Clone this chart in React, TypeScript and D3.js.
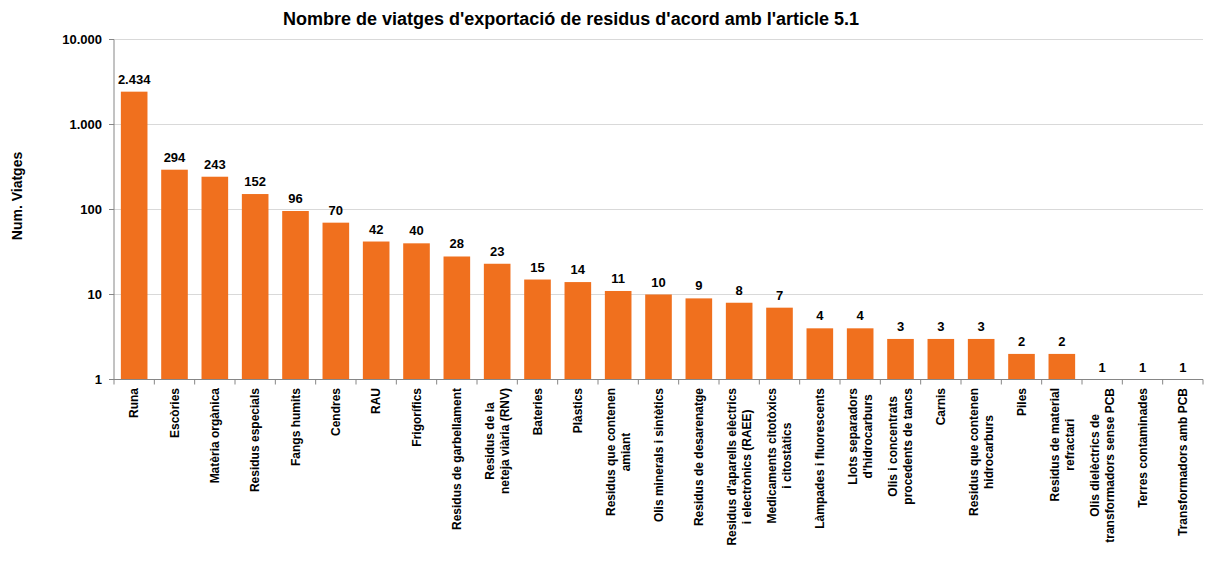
import React, { useMemo } from "react";
import * as d3 from "d3";

const title = "Nombre de viatges d'exportació de residus d'acord amb l'article 5.1";
const yAxisTitle = "Num. Viatges";

const categories: string[] = [
  "Runa",
  "Escòries",
  "Matèria orgànica",
  "Residus especials",
  "Fangs humits",
  "Cendres",
  "RAU",
  "Frigorífics",
  "Residus de garbellament",
  "Residus de la\nneteja viària (RNV)",
  "Bateries",
  "Plàstics",
  "Residus que contenen\namiant",
  "Olis minerals i sintètics",
  "Residus de desarenatge",
  "Residus d'aparells elèctrics\ni electrònics (RAEE)",
  "Medicaments citotòxics\ni citostàtics",
  "Làmpades i fluorescents",
  "Llots separadors\nd'hidrocarburs",
  "Olis i concentrats\nprocedents de tancs",
  "Carnis",
  "Residus que contenen\nhidrocarburs",
  "Piles",
  "Residus de material\nrefractari",
  "Olis dielèctrics de\ntransformadors sense PCB",
  "Terres contaminades",
  "Transformadors amb PCB",
];

const values: number[] = [
  2434, 294, 243, 152, 96, 70, 42, 40, 28, 23, 15, 14, 11, 10, 9, 8, 7, 4, 4, 3, 3, 3, 2, 2, 1, 1, 1,
];

const yTicks: number[] = [1, 10, 100, 1000, 10000];

const W = 1207;
const H = 565;
const M = { left: 114, right: 1203, top: 39.5, bottom: 379.5 };
const FONT = "'Liberation Sans', Arial, sans-serif";
const BAR = "#F0701E";

const locale = d3.formatLocale({ decimal: ",", thousands: ".", grouping: [3], currency: ["", "€"] });
const fmt = locale.format(",d");

export default function App() {
  const x = d3
    .scaleBand<string>()
    .domain(categories)
    .range([M.left, M.right])
    .paddingInner(0.34)
    .paddingOuter(0.17);
  const y = d3.scaleLog().domain([1, 10000]).range([M.bottom, M.top]);

  const step = x.step();
  const boundaries = d3.range(categories.length + 1).map((i) => M.left + i * step);

  const measure = useMemo(() => {
    const c = document.createElement("canvas").getContext("2d")!;
    c.font = `bold 12px ${FONT}`;
    return (s: string) => c.measureText(s).width;
  }, []);

  const labelTop = 388;
  const lineGap = 15;

  return (
    <svg
      width={W}
      height={H}
      style={{ position: "absolute", left: 0, top: 0, background: "#fff" }}
      fontFamily={FONT}
    >
      <text x={571} y={25} textAnchor="middle" fontSize={18} fontWeight="bold" fill="#000">
        {title}
      </text>

      {/* gridlines */}
      {yTicks
        .filter((t) => t > 1)
        .map((t) => (
          <line key={"g" + t} x1={M.left} x2={M.right} y1={y(t)} y2={y(t)} stroke="#d9d9d9" strokeWidth={1} />
        ))}

      {/* bars */}
      {values.map((v, i) => (
        <rect
          key={"b" + i}
          x={x(categories[i])!}
          y={y(v)}
          width={x.bandwidth()}
          height={y(1) - y(v)}
          fill={BAR}
        />
      ))}

      {/* value labels */}
      {values.map((v, i) => (
        <text
          key={"v" + i}
          x={x(categories[i])! + x.bandwidth() / 2}
          y={y(v) - 8}
          textAnchor="middle"
          fontSize={13}
          fontWeight="bold"
          fill="#000"
        >
          {fmt(v)}
        </text>
      ))}

      {/* y axis */}
      <line x1={M.left} x2={M.left} y1={M.top} y2={M.bottom} stroke="#868686" strokeWidth={1} />
      {yTicks.map((t) => (
        <g key={"yt" + t}>
          <line x1={M.left - 5} x2={M.left} y1={y(t)} y2={y(t)} stroke="#868686" strokeWidth={1} />
          <text x={102} y={y(t)} dy="0.35em" textAnchor="end" fontSize={13} fontWeight="bold" fill="#000">
            {fmt(t)}
          </text>
        </g>
      ))}

      {/* x axis */}
      <line x1={M.left} x2={M.right} y1={M.bottom} y2={M.bottom} stroke="#868686" strokeWidth={1} />
      {boundaries.map((bx, i) => (
        <line key={"xt" + i} x1={bx} x2={bx} y1={M.bottom} y2={M.bottom + 5} stroke="#868686" strokeWidth={1} />
      ))}

      {/* x labels */}
      {categories.map((c, i) => {
        const lines = c.split("\n");
        const maxW = Math.max(...lines.map(measure));
        const cx = x(c)! + x.bandwidth() / 2;
        const cy = labelTop + maxW / 2;
        const n = lines.length;
        return (
          <g key={"xl" + i} transform={`translate(${cx},${cy}) rotate(-90)`}>
            {lines.map((ln, j) => (
              <text
                key={j}
                x={0}
                y={(j - (n - 1) / 2) * lineGap}
                dy="0.35em"
                textAnchor="middle"
                fontSize={12}
                fontWeight="bold"
                fill="#000"
              >
                {ln}
              </text>
            ))}
          </g>
        );
      })}

      {/* y axis title */}
      <text
        transform={`translate(22,196) rotate(-90)`}
        textAnchor="middle"
        fontSize={14}
        fontWeight="bold"
        fill="#000"
      >
        {yAxisTitle}
      </text>
    </svg>
  );
}
